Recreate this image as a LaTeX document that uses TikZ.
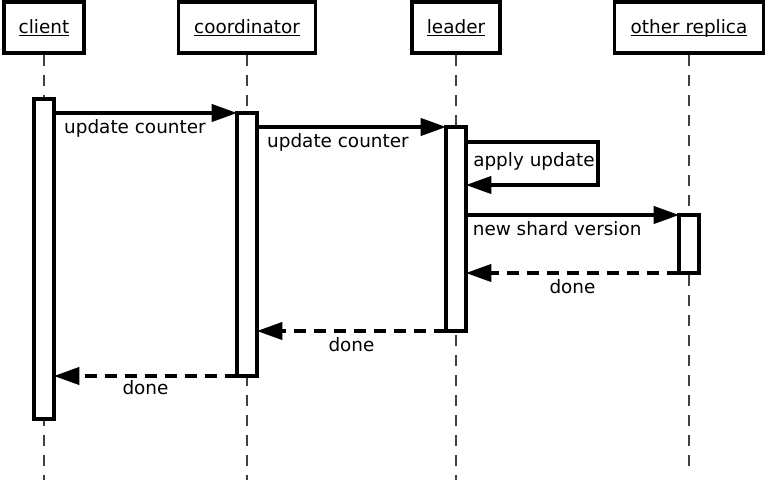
\documentclass[tikz,border=0pt]{standalone}
\usepackage{fontspec}
\setmainfont{DejaVu Sans}
\usetikzlibrary{arrows.meta}

% underline at one fixed depth, through the descenders
\newcommand{\ulabel}[1]{\underline{\raisebox{0pt}[\height][0pt]{#1}}}

\begin{document}
\begin{tikzpicture}[x=0.75pt, y=-0.75pt, every node/.style={font=\fontsize{13.8}{16}\selectfont}]
        % Styles for the sequence diagram
        \tikzstyle{actor} = [rectangle, draw, line width=2.8pt, minimum height=38.25pt, inner sep=0pt]
        \tikzstyle{bar} = [rectangle, draw, fill=white, line width=2.4pt, minimum width=15pt, inner sep=0pt, outer sep=0pt, anchor=north]
        \tikzstyle{lifeline} = [line width=1.1pt, black!75, dash pattern=on 8pt off 7pt]
        \tikzstyle{msg} = [line width=2.3pt, -{Triangle[length=19pt,width=13pt]}]
        \tikzstyle{reply} = [msg, dash pattern=on 9pt off 6pt]
        \tikzstyle{lbl} = [inner sep=0pt]

        \useasboundingbox (0,0) rectangle (768,483);

        % Participants
        \node (client) [actor, minimum width=60pt] at (44,27.5) {\ulabel{client}};
        \node (coordinator) [actor, minimum width=102.75pt] at (247,27.5) {\ulabel{coordinator}};
        \node (leader) [actor, minimum width=66pt] at (456,27.5) {\ulabel{leader}};
        \node (replica) [actor, minimum width=111.75pt] at (689,27.5) {\ulabel{other replica}};

        % Lifelines
        \coordinate (clientend) at (44,480);
        \coordinate (coordend) at (247,480);
        \coordinate (leaderend) at (456,480);
        \coordinate (replicaend) at (689,471);
        \draw [lifeline] (client.south) -- (clientend);
        \draw [lifeline] (coordinator.south) -- (coordend);
        \draw [lifeline] (leader.south) -- (leaderend);
        \draw [lifeline] (replica.south) -- (replicaend);

        % Activation bars
        \node (clientbar) [bar, minimum height=240pt] at (44,99) {};
        \node (coordbar) [bar, minimum height=197.25pt] at (247,113) {};
        \node (leaderbar) [bar, minimum height=153pt] at (456,127) {};
        \node (replicabar) [bar, minimum height=43.5pt] at (689,215) {};

        % Calls
        \draw [msg] (clientbar.east |- coordbar.north) -- node[lbl, pos=0, anchor=north west, xshift=6.5pt, yshift=-3.5pt] {update counter} (coordbar.north west);
        \draw [msg] (coordbar.east |- leaderbar.north) -- node[lbl, pos=0, anchor=north west, xshift=6.5pt, yshift=-3.5pt] {update counter} (leaderbar.north west);

        % Self call on the leader
        \coordinate (loopne) at (598,142);
        \coordinate (loopse) at (598,185);
        \draw [msg] (leaderbar.east |- loopne) -- (loopne) -- (loopse) -- (leaderbar.east |- loopse);
        \node (applyupd) [lbl, anchor=west] at (473,161) {apply update};

        \draw [msg] (leaderbar.east |- replicabar.north) -- node[lbl, pos=0, anchor=north west, xshift=4pt, yshift=-3.5pt] {new shard version} (replicabar.north west);

        % Replies
        \draw [reply] (replicabar.south west) -- node[lbl, below=3.5pt] {done} (leaderbar.east |- replicabar.south);
        \draw [reply] (leaderbar.south west) -- node[lbl, below=3.5pt] {done} (coordbar.east |- leaderbar.south);
        \draw [reply] (coordbar.south west) -- node[lbl, below=2pt] {done} (clientbar.east |- coordbar.south);
\end{tikzpicture}
\end{document}
